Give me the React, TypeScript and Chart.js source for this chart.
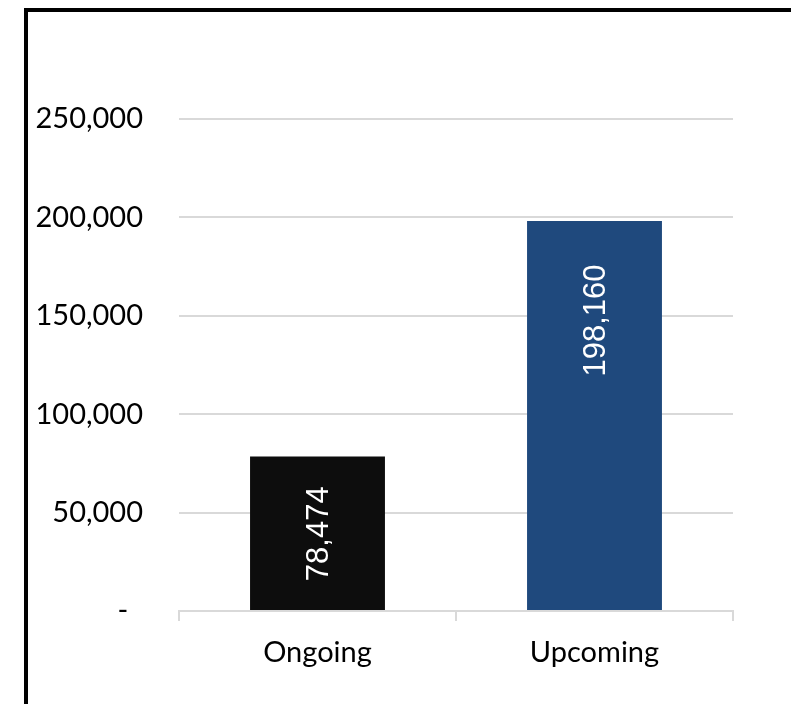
import React, { useEffect, useRef } from "react";
import { Chart, registerables } from "chart.js";

Chart.register(...registerables);

const categories = ["Ongoing", "Upcoming"];
const values = [78474, 198160];
const barColors = ["#0d0d0d", "#1f497d"];
const yTickValues = [0, 50000, 100000, 150000, 200000, 250000];
const labelAnchors = [0.5, 0.745];

const fmt = (v: number) => v.toLocaleString("en-US");

const barLabelPlugin = {
  id: "barLabels",
  afterDatasetsDraw(chart: any) {
    const { ctx } = chart;
    const meta = chart.getDatasetMeta(0);
    const ys = chart.scales.y;
    meta.data.forEach((bar: any, i: number) => {
      const v = values[i];
      const y = ys.getPixelForValue(v * labelAnchors[i]);
      ctx.save();
      ctx.translate(bar.x + 2, y);
      ctx.rotate(-Math.PI / 2);
      ctx.font = '31px "Liberation Sans", Arial, sans-serif';
      ctx.fillStyle = "#ffffff";
      ctx.textAlign = "center";
      ctx.textBaseline = "middle";
      ctx.fillText(fmt(v), 0, 0);
      ctx.restore();
    });
  },
};

export default function App() {
  const ref = useRef<HTMLCanvasElement | null>(null);

  useEffect(() => {
    if (!ref.current) return;
    const chart = new Chart(ref.current, {
      type: "bar",
      data: {
        labels: categories,
        datasets: [
          {
            data: values,
            backgroundColor: barColors,
            barPercentage: 0.487,
            categoryPercentage: 1,
          },
        ],
      },
      options: {
        animation: false,
        responsive: false,
        devicePixelRatio: 1,
        layout: { padding: { left: 0, right: 58, top: 119, bottom: 0 } },
        plugins: {
          legend: { display: false },
          tooltip: { enabled: false },
          title: { display: false },
        },
        scales: {
          x: {
            afterFit: (s: any) => {
              s.height = 93;
            },
            border: { display: true, color: "#d9d9d9", width: 2 },
            grid: {
              display: true,
              drawOnChartArea: false,
              drawTicks: true,
              tickLength: 10,
              color: "#d9d9d9",
              lineWidth: 2,
            },
            ticks: {
              color: "#000000",
              padding: 14,
              font: { family: "Lato", size: 29, lineHeight: 1.2 },
              maxRotation: 0,
            },
          },
          y: {
            min: 0,
            max: 250000,
            afterFit: (s: any) => {
              s.width = 179;
            },
            afterBuildTicks: (s: any) => {
              s.ticks = yTickValues.map((v) => ({ value: v }));
            },
            border: { display: false },
            grid: {
              color: "#d9d9d9",
              lineWidth: 2,
              drawTicks: false,
            },
            ticks: {
              color: "#000000",
              padding: 36,
              font: { family: "Lato", size: 29, lineHeight: 1.2 },
              callback: (v: any) => (Number(v) === 0 ? "-  " : fmt(Number(v))),
            },
          },
        },
      },
      plugins: [barLabelPlugin],
    });
    return () => chart.destroy();
  }, []);

  return (
    <div
      style={{
        position: "fixed",
        left: 0,
        top: 0,
        width: 791,
        height: 704,
        overflow: "hidden",
        background: "#ffffff",
      }}
    >
      <canvas ref={ref} width={791} height={704} style={{ display: "block" }} />
      <div
        style={{
          position: "absolute",
          left: 24,
          top: 8,
          width: 800,
          height: 720,
          border: "4px solid #000000",
          pointerEvents: "none",
        }}
      />
    </div>
  );
}
